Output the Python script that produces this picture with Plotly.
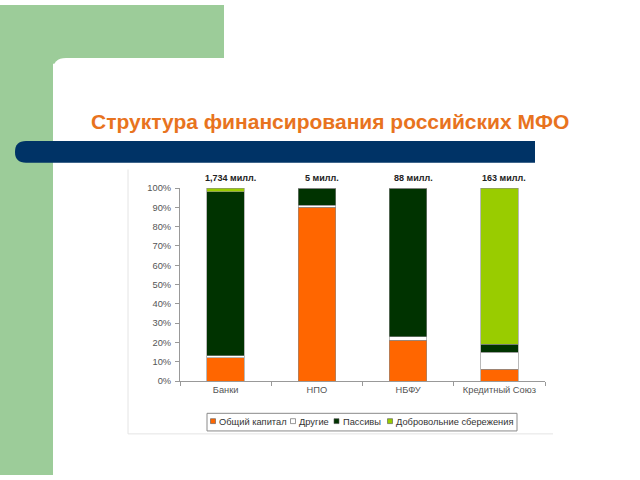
import plotly.graph_objects as go

# Data
categories = ["Банки", "НПО", "НБФУ", "Кредитный Союз"]
totals = ["1,734 милл.", "5 милл.", "88 милл.", "163 милл."]

equity = [12, 90, 21, 6]       # Общий капитал
other = [1, 1, 2, 9]           # Другие
liabilities = [85, 9, 77, 4]   # Пассивы
savings = [2, 0, 0, 81]        # Добровольние сбережения

series_names = ["Общий капитал", "Другие", "Пассивы", "Добровольние сбережения"]
series_values = [equity, other, liabilities, savings]
series_colors = ["#FF6600", "#FFFFFF", "#003300", "#99CC00"]

W, H = 640, 480
FONT = "Liberation Sans, Arial, sans-serif"


def X(x):
    return x / W


def Y(y):
    return 1 - y / H


fig = go.Figure()
for name, vals, col in zip(series_names, series_values, series_colors):
    fig.add_trace(go.Bar(
        x=categories, y=vals, name=name, width=0.41, showlegend=False,
        marker=dict(color=col, line=dict(color="#8A8A8A", width=0.6)),
    ))

shapes = []
green = "#9CCC99"
# slide background decoration
shapes.append(dict(type="rect", xref="paper", yref="paper", x0=X(0), x1=X(224), y0=Y(0), y1=Y(60),
                   fillcolor=green, line_width=0, layer="below"))
shapes.append(dict(type="rect", xref="paper", yref="paper", x0=X(0), x1=X(53), y0=Y(0), y1=Y(480),
                   fillcolor=green, line_width=0, layer="below"))
r = 13
path = (f"M {X(53)},{Y(54 + r)} Q {X(53)},{Y(54)} {X(53 + r)},{Y(54)} "
        f"L {X(640)},{Y(54)} L {X(640)},{Y(480)} L {X(53)},{Y(480)} Z")
shapes.append(dict(type="path", xref="paper", yref="paper", path=path,
                   fillcolor="white", line_width=0, layer="below"))
# dark blue band
bp = (f"M {X(26)},{Y(139)} L {X(535)},{Y(139)} L {X(535)},{Y(161)} L {X(26)},{Y(161)} "
      f"Q {X(15)},{Y(161)} {X(15)},{Y(150)} Q {X(15)},{Y(139)} {X(26)},{Y(139)} Z")
shapes.append(dict(type="path", xref="paper", yref="paper", path=bp,
                   fillcolor="#003366", line_width=0, layer="below"))
# chart panel border (faint)
shapes.append(dict(type="line", xref="paper", yref="paper", x0=X(128), x1=X(128), y0=Y(168), y1=Y(438),
                   line=dict(color="#E4E4E4", width=1), layer="below"))
shapes.append(dict(type="line", xref="paper", yref="paper", x0=X(128), x1=X(553), y0=Y(438), y1=Y(438),
                   line=dict(color="#E4E4E4", width=1), layer="below"))

annotations = [dict(
    text="<b>Структура финансирования российских МФО</b>",
    xref="paper", yref="paper", x=X(330), y=Y(119), xanchor="center", yanchor="middle",
    showarrow=False, font=dict(family=FONT, size=21, color="#E8731E"),
)]
for cat, t in zip(categories, totals):
    annotations.append(dict(
        text=f"<b>{t}</b>", xref="x", yref="paper", x=cat, y=Y(177), xshift=5,
        yanchor="middle", showarrow=False, font=dict(family=FONT, size=9, color="#222222"),
    ))

# legend drawn by hand (compact, like the original)
shapes.append(dict(type="rect", xref="paper", yref="paper", x0=X(207), x1=X(517), y0=Y(417), y1=Y(435),
                   line=dict(color="#8A8A8A", width=1), fillcolor="white"))
legend_x = [210.5, 290.5, 334, 387.5]
for lx, name, col in zip(legend_x, series_names, series_colors):
    shapes.append(dict(type="rect", xref="paper", yref="paper", x0=X(lx), x1=X(lx + 5),
                       y0=Y(427.5), y1=Y(422.5), fillcolor=col, line=dict(color="#555555", width=0.6)))
    annotations.append(dict(text=name, xref="paper", yref="paper", x=X(lx + 6.5), y=Y(425.5),
                            xanchor="left", yanchor="middle", showarrow=False,
                            font=dict(family=FONT, size=9.3, color="#333333")))

fig.update_layout(
    width=W, height=H,
    margin=dict(l=0, r=0, t=0, b=0),
    paper_bgcolor="white", plot_bgcolor="white",
    barmode="stack",
    font=dict(family=FONT, size=9, color="#333333"),
    shapes=shapes, annotations=annotations,
    xaxis=dict(domain=[X(180), X(545)], range=[-0.5, 3.5], showline=True, linecolor="#999999",
               ticks="outside", tickson="boundaries", ticklen=4, tickcolor="#999999",
               tickfont=dict(size=9.3, color="#555555")),
    yaxis=dict(domain=[Y(384), Y(187)], range=[0, 100], dtick=10, ticksuffix="%",
               showgrid=False, showline=True, linecolor="#999999", ticks="outside",
               ticklen=4, tickcolor="#999999", ticklabelstandoff=2,
               tickfont=dict(size=9.3, color="#555555"), zeroline=False),
    showlegend=False,
)

fig.write_html("out.html", config={"displayModeBar": False},
               post_script="document.body.style.margin='0';document.body.style.overflow='hidden';")
